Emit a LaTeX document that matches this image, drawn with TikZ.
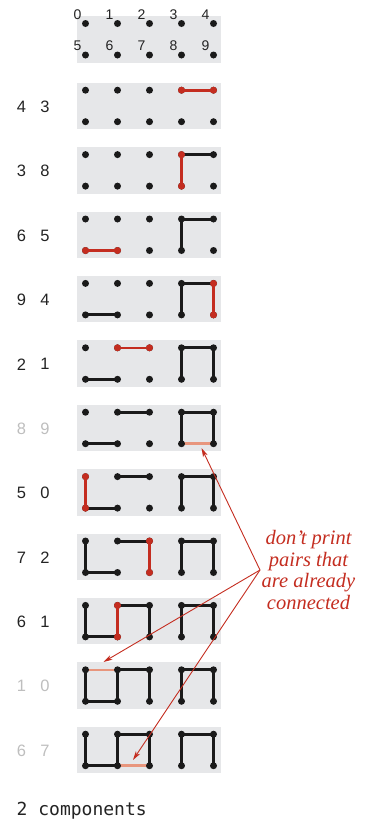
\documentclass[tikz,border=0pt]{standalone}
\usepackage{fontspec}
\setmainfont{Liberation Serif}
\newfontfamily\labfont{Liberation Sans}
\newfontfamily\codefont{DejaVu Sans Mono}
\usetikzlibrary{arrows.meta}
\definecolor{panelgray}{RGB}{230,231,233}
\definecolor{edgered}{RGB}{196,45,32}
\definecolor{paleedge}{RGB}{232,150,125}
\definecolor{labgray}{RGB}{190,190,190}
\definecolor{labdark}{RGB}{35,35,35}
\definecolor{dotblack}{RGB}{26,26,26}
\begin{document}
\begin{tikzpicture}[x=1pt,y=-1pt,
  blk/.style={line width=3pt, draw=dotblack, line cap=round},
  redge/.style={line width=2.6pt, draw=edgered},
  pale/.style={line width=2.6pt, draw=paleedge},
  dotb/.style={circle, fill=dotblack, inner sep=0pt, minimum size=7pt},
  dotr/.style={circle, fill=edgered, inner sep=0pt, minimum size=7pt},
  pairlab/.style={font=\labfont\fontsize{16.5}{18}\selectfont, inner sep=0pt},
  toplab/.style={font=\labfont\fontsize{14}{16}\selectfont, text=labdark, inner sep=0pt},
  note/.style={font=\itshape\fontsize{20.5}{21.6}\selectfont, text=edgered, align=center, inner sep=0pt},
  pointer/.style={draw=edgered, line width=0.9pt, -{Stealth[length=9pt,width=5pt,inset=2.5pt]}}
]
\useasboundingbox (0,0) rectangle (366,820);
% panels and dot positions
\foreach \k in {0,...,11}{
  \ifnum\k=0 \def\ptop{16}\else \pgfmathsetmacro\ptop{82.7+(\k-1)*64.4}\fi
  \fill[panelgray] (77,\ptop) rectangle (221,\ptop+46.5);
  \foreach \i in {0,...,4}{
    \pgfmathtruncatemacro\j{\i+5}
    \coordinate (p\k-\i) at (85.5+32*\i, \ptop+7.5);
    \coordinate (p\k-\j) at (85.5+32*\i, \ptop+39);
  }
}
% black (existing) edges
\foreach \k/\lst in {
  2/{3/4},
  3/{3/4,3/8},
  4/{3/4,3/8,5/6},
  5/{3/4,3/8,5/6,4/9},
  6/{3/4,3/8,5/6,4/9,1/2},
  7/{3/4,3/8,5/6,4/9,1/2},
  8/{3/4,3/8,5/6,4/9,1/2,0/5},
  9/{3/4,3/8,5/6,4/9,1/2,0/5,2/7},
  10/{3/4,3/8,5/6,4/9,1/2,0/5,2/7,1/6},
  11/{3/4,3/8,5/6,4/9,1/2,0/5,2/7,1/6}}{
  \foreach \u/\v in \lst { \draw[blk] (p\k-\u) -- (p\k-\v); }
}
% pale (redundant) edges
\foreach \k/\u/\v in {6/8/9,10/0/1,11/6/7}{
  \draw[pale] (p\k-\u) -- (p\k-\v);
}
% dots
\foreach \k in {0,...,11}{
  \foreach \i in {0,...,9}{
    \node[dotb] (d\k-\i) at (p\k-\i) {};
  }
}
% new (red) edges
\foreach \k/\u/\v in {1/3/4,2/3/8,3/5/6,4/4/9,5/1/2,7/0/5,8/2/7,9/1/6}{
  \draw[redge] (p\k-\u) -- (p\k-\v);
  \node[dotr] (r\k-\u) at (p\k-\u) {};
  \node[dotr] (r\k-\v) at (p\k-\v) {};
}
% top index labels
\foreach \i in {0,...,9}{
  \node[toplab] (t\i) at ([shift={(-8,-9)}]p0-\i) {\i};
}
% pair labels
\foreach \k/\a/\b/\col in {1/4/3/labdark,2/3/8/labdark,3/6/5/labdark,4/9/4/labdark,
  5/2/1/labdark,6/8/9/labgray,7/5/0/labdark,8/7/2/labdark,9/6/1/labdark,
  10/1/0/labgray,11/6/7/labgray}{
  \pgfmathsetmacro\pc{82.7+(\k-1)*64.4+24}
  \node[pairlab, text=\col] (la\k) at (21.5,\pc) {\a};
  \node[pairlab, text=\col] (lb\k) at (45,\pc) {\b};
}
% annotation
\node[note] (msg) at (308.5,570) {don’t print\\pairs that\\are already\\connected};
\coordinate (src) at (260,570);
\coordinate (tip1) at (201.5,448);
\coordinate (tip2) at (103.5,662);
\coordinate (tip3) at (133,760);
\draw[pointer] (src) -- (tip1);
\draw[pointer] (src) -- (tip2);
\draw[pointer] (src) -- (tip3);
% result
\node[font=\codefont\fontsize{18}{20}\selectfont, text=labdark, anchor=base west, inner sep=0pt] (res) at (16.5,815) {2 components};
\end{tikzpicture}
\end{document}
